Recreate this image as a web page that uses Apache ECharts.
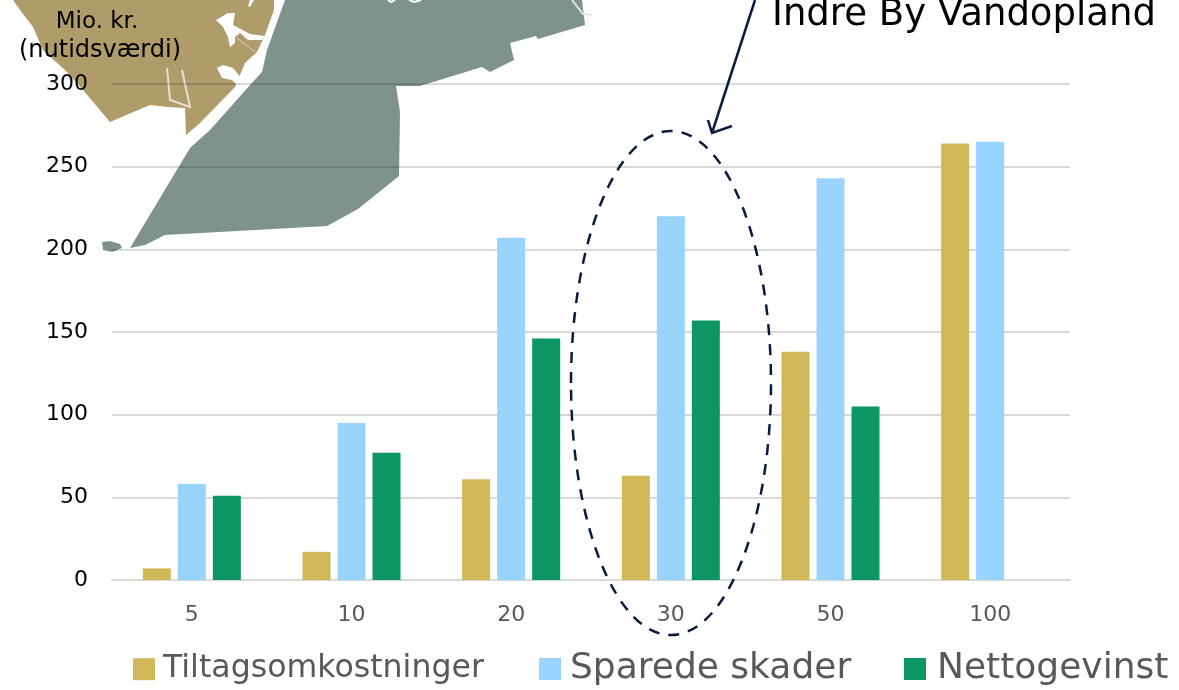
<!DOCTYPE html>
<html>
<head>
<meta charset="utf-8">
<title>Indre By Vandopland</title>
<script src="https://cdn.jsdelivr.net/npm/echarts@6/dist/echarts.min.js"></script>
<style>
html, body { margin: 0; padding: 0; background: #fff; }
#chart { width: 1179px; height: 690px; }
</style>
</head>
<body>
<div id="chart"></div>
<script>
// data
var categories = ['5', '10', '20', '30', '50', '100'];
var tiltag = [7, 17, 61, 63, 138, 264];
var sparede = [58, 95, 207, 220, 243, 265];
var netto = [51, 77, 146, 157, 105, null];
var seriesNames = ['Tiltagsomkostninger', 'Sparede skader', 'Nettogevinst'];
var colors = ['#d1b856', '#99d3ff', '#0b9663'];
var yTicks = { min: 0, max: 300, interval: 50 };

var fontName = '"DejaVu Sans"';
var mapTan = '#b09b6b';
var mapGray = '#7f938d';
var navy = '#0b1a3f';

function poly(points, fill) {
	return { type: 'polygon', z: -10, silent: true, shape: { points: points }, style: { fill: fill } };
}

function line(points, color, width, z) {
	return {
		type: 'polyline', z: z, silent: true, shape: { points: points },
		style: { stroke: color, lineWidth: width, fill: null }
	};
}

// background map, sits behind the gridlines
function mapElements() {
	return [
		poly([[13, 0], [20, 10], [33, 27], [43, 50], [67, 72], [83, 90], [110, 122], [150, 105], [168, 107],
			[185, 108], [186, 135], [200, 123], [235, 87], [245, 63], [257, 52], [265, 35], [274, 10], [274, 0]], mapTan),
		poly([[216, 20], [228, 13], [235, 13], [233, 25], [250, 34], [265, 36], [262, 40], [248, 40], [240, 33],
			[235, 37], [235, 43], [230, 47], [228, 37], [223, 27]], '#fff'),
		poly([[217, 68], [223, 65], [233, 68], [243, 80], [250, 83], [237, 85], [232, 80], [222, 78]], '#fff'),
		poly([[250, 0], [254, 0], [250, 7], [248, 6]], '#fff'),
		line([[167, 68], [170, 100], [190, 107], [182, 70]], '#e4dfd2', 2, -9),
		line([[237, 38], [255, 52]], '#d9cfb4', 1, -9),
		poly([[285, 0], [267, 50], [262, 72], [250, 85], [210, 130], [190, 148], [130, 248], [145, 245], [165, 235],
			[327, 226], [358, 209], [399, 176], [400, 112], [396, 86], [420, 86], [482, 67], [490, 72], [514, 60],
			[510, 43], [536, 36], [538, 39], [585, 25], [582, 0]], mapGray),
		poly([[102, 242], [110, 241], [120, 244], [122, 248], [112, 252], [103, 250]], mapGray),
		line([[572, 0], [583, 14], [592, 15]], '#dfe4e2', 2, -9),
		line([[388, 0], [391, 2], [395, 0]], '#fff', 2, -9),
		line([[409, 0], [414, 2], [421, 0]], '#fff', 2, -9)
	];
}

// dashed ring round the 30 year group and the arrow pointing at it
function annotationElements() {
	return [
		{
			type: 'ellipse', z: 100, silent: true, shape: { cx: 671, cy: 383, rx: 100, ry: 252 },
			style: { fill: null, stroke: navy, lineWidth: 2.5, lineDash: [11, 9] }
		},
		line([[755, 0], [712, 133]], navy, 2.5, 100),
		line([[708, 120], [712, 133], [732, 126]], navy, 2.5, 100),
		{
			type: 'text', z: 100, silent: true, x: 772, y: -3,
			style: { text: 'Indre By Vandopland', font: '37px ' + fontName, fill: '#000' }
		},
		{
			type: 'text', z: 100, silent: true, x: 97, y: 22,
			style: { text: 'Mio. kr.', font: '23px ' + fontName, fill: '#000', textAlign: 'center', textVerticalAlign: 'middle' }
		},
		{
			type: 'text', z: 100, silent: true, x: 100, y: 51,
			style: { text: '(nutidsværdi)', font: '24px ' + fontName, fill: '#000', textAlign: 'center', textVerticalAlign: 'middle' }
		}
	];
}

function legendItem(name, left, fontSize, textGap) {
	return {
		data: [name], left: left, top: 669 - fontSize / 2, orient: 'horizontal', itemWidth: 22, itemHeight: 22,
		icon: 'rect', selectedMode: false, padding: 0,
		textStyle: { color: '#595959', fontFamily: fontName, fontSize: fontSize, padding: [0, 0, 0, textGap] }
	};
}

var myChart = echarts.init(document.getElementById('chart'), null, { renderer: 'canvas' });

var option = {
	animation: false,
	backgroundColor: '#fff',
	grid: { left: 112, right: 109, top: 84, bottom: 110 },
	legend: [
		legendItem(seriesNames[0], 133, 31.6, 3),
		legendItem(seriesNames[1], 539, 36, 4),
		legendItem(seriesNames[2], 904, 36, 6)
	],
	xAxis: {
		type: 'category',
		data: categories,
		axisTick: { show: false },
		axisLine: { lineStyle: { color: '#d9d9d9', width: 2 } },
		axisLabel: { color: '#595959', fontFamily: fontName, fontSize: 22, margin: 24 }
	},
	yAxis: {
		type: 'value',
		min: yTicks.min,
		max: yTicks.max,
		interval: yTicks.interval,
		axisLine: { show: false },
		axisTick: { show: false },
		axisLabel: { color: '#000', fontFamily: fontName, fontSize: 22, margin: 24 },
		splitLine: { lineStyle: { color: 'rgba(0,0,0,0.15)', width: 2 } }
	},
	series: [
		{ name: seriesNames[0], type: 'bar', data: tiltag, barWidth: 28, barGap: '25%', itemStyle: { color: colors[0] } },
		{ name: seriesNames[1], type: 'bar', data: sparede, barWidth: 28, barGap: '25%', itemStyle: { color: colors[1] } },
		{ name: seriesNames[2], type: 'bar', data: netto, barWidth: 28, barGap: '25%', itemStyle: { color: colors[2] } }
	],
	graphic: { elements: mapElements().concat(annotationElements()) }
};

myChart.setOption(option);
</script>
</body>
</html>
